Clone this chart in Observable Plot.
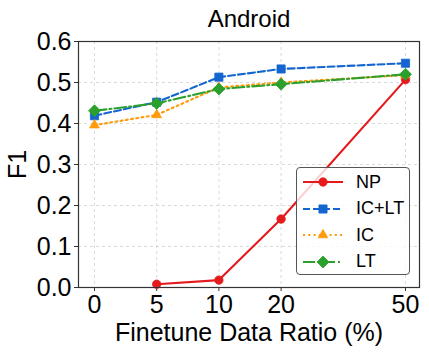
<!DOCTYPE html>
<html><head><meta charset="utf-8">
<script src="https://cdn.jsdelivr.net/npm/d3@7"></script>
<script src="https://cdn.jsdelivr.net/npm/@observablehq/plot@0.6"></script>
<style>
body{margin:0;background:#fff;}
#wrap{position:relative;width:429px;height:353px;font-family:"Liberation Sans",Arial,sans-serif;}
#legend{position:absolute;left:296px;top:167px;width:114px;height:108px;border:1px solid #555;border-radius:4px;background:rgba(255,255,255,0.8);box-sizing:border-box;}
.row{position:absolute;left:0;height:26px;display:flex;align-items:center;}
.row span{font-size:18px;color:#000;margin-left:8px;}
</style></head><body><div id="wrap"></div>
<script>
// ---- data ----
const ratios = ["0", "5", "10", "20", "50"];        // x tick labels (Finetune Data Ratio %)
const ratioPos = [0, 1, 2, 3, 5];                    // position of each ratio on the axis
const yTicks = [0, 0.1, 0.2, 0.3, 0.4, 0.5, 0.6];
const seriesNames = ["NP", "IC+LT", "IC", "LT"];
const npValues   = [null, 0.008, 0.018, 0.167, 0.507];
const icltValues = [0.419, 0.452, 0.513, 0.533, 0.547];
const icValues   = [0.396, 0.421, 0.488, 0.500, 0.518];
const ltValues   = [0.431, 0.449, 0.484, 0.496, 0.520];

// ---- styles ----
const colors  = ["#e41a1c", "#1565d0", "#ff9a0a", "#2ca02c"];
const symbols = ["circle", "square", "triangle", "diamond2"];
const dashes  = [null, "7,3", "2,3.3", "12,3,2,3"];
const radii   = [4.2, 4.6, 3.6, 5.4];

const allValues = [npValues, icltValues, icValues, ltValues];
const rows = [];
seriesNames.forEach((s, si) => {
  allValues[si].forEach((v, i) => {
    if (v != null) rows.push({series: s, si, pos: ratioPos[i], label: ratios[i], value: v});
  });
});

const font = '"Liberation Sans", Arial, sans-serif';
const seriesMarks = seriesNames.flatMap((s, si) => {
  const d = rows.filter(r => r.series === s);
  return [
    Plot.line(d, {x: "pos", y: "value", stroke: colors[si], strokeWidth: 2.1, strokeDasharray: dashes[si]}),
    Plot.dot(d, {x: "pos", y: "value", symbol: () => symbols[si], r: radii[si], fill: colors[si], stroke: colors[si], strokeWidth: 0.8})
  ];
});

const chart = Plot.plot({
  width: 429, height: 353,
  marginTop: 41, marginRight: 10, marginBottom: 66, marginLeft: 78,
  style: {fontFamily: font, fontSize: "25px", color: "#000", background: "white", overflow: "visible"},
  x: {type: "linear", domain: [-0.257, 5.225]},
  y: {domain: [0, 0.6]},
  symbol: {type: "identity"},
  marks: [
    Plot.gridY(yTicks.slice(1, -1), {stroke: "#d0d0d0", strokeOpacity: 1, strokeDasharray: "3,3", strokeWidth: 0.8}),
    Plot.gridX(ratioPos, {stroke: "#d0d0d0", strokeOpacity: 1, strokeDasharray: "3,3", strokeWidth: 0.8}),
    Plot.axisY(yTicks, {tickFormat: d3.format(".1f"), tickSize: 4, tickPadding: 3, fontSize: 25, stroke: "#333",
      label: "F1", labelAnchor: "center", labelOffset: 70, labelArrow: "none"}),
    Plot.axisX(ratioPos, {tickFormat: d => ratios[ratioPos.indexOf(d)], tickSize: 4, tickPadding: 4, fontSize: 25, stroke: "#333",
      label: "Finetune Data Ratio (%)", labelAnchor: "center", labelOffset: 53, labelArrow: "none"}),
    ...seriesMarks,
    Plot.frame({stroke: "#333", strokeWidth: 1.2}),
    Plot.text(["Android"], {frameAnchor: "top", dy: -32, fontSize: 24, fill: "#000"})
  ]
});
const wrap = document.getElementById("wrap");
wrap.appendChild(chart);

// legend
const legend = document.createElement("div");
legend.id = "legend";
seriesNames.forEach((s, si) => {
  const row = document.createElement("div");
  row.className = "row";
  row.style.top = (1 + si * 26.5) + "px";
  const svg = d3.create("svg").attr("width", 46).attr("height", 26).style("margin-left", "5px");
  svg.append("line").attr("x1", 1).attr("x2", 41).attr("y1", 13).attr("y2", 13)
    .attr("stroke", colors[si]).attr("stroke-width", 2.1).attr("stroke-dasharray", dashes[si]);
  const symMap = {circle: d3.symbolCircle, square: d3.symbolSquare, triangle: d3.symbolTriangle, diamond2: d3.symbolDiamond2};
  svg.append("path").attr("transform", "translate(21,13)")
    .attr("d", d3.symbol(symMap[symbols[si]], Math.PI * radii[si] * radii[si])())
    .attr("fill", colors[si]).attr("stroke", colors[si]).attr("stroke-width", 0.8);
  row.appendChild(svg.node());
  const t = document.createElement("span");
  t.textContent = s;
  row.appendChild(t);
  legend.appendChild(row);
});
wrap.appendChild(legend);
</script>
</body></html>
